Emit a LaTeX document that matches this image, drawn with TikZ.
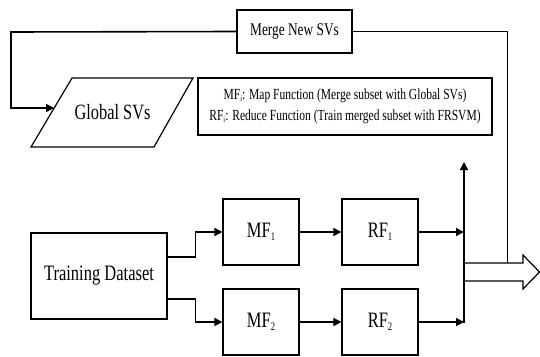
\documentclass[tikz,border=0pt]{standalone}
\usepackage{fontspec}
\setmainfont{Liberation Serif}[FakeStretch=0.75]
\usetikzlibrary{arrows.meta}
\newcommand\bigsub[1]{\raisebox{-3pt}{\fontsize{11.5}{12}\selectfont #1}}
\newcommand\smallsub[1]{\raisebox{-2pt}{\fontsize{8.5}{9}\selectfont #1}}
\begin{document}
\begin{tikzpicture}[x=1pt,y=-1pt,
  box/.style={draw, line width=1.2pt, inner sep=0pt, anchor=center},
  conn/.style={line width=1.6pt, -{Triangle[length=8pt,width=8pt]}},
  thinline/.style={line width=0.8pt},
  big/.style={font=\fontsize{22}{24}\selectfont},
]
\useasboundingbox (0,0) rectangle (540,356);
% nodes
\node[box, minimum width=115pt, minimum height=43pt, font=\fontsize{17.8}{20}\selectfont] (merge) at (294.5,31.5) {Merge New SVs};
\node[box, minimum width=294pt, minimum height=57pt, align=center, font=\fontsize{15.4}{21}\selectfont] (legend) at (345,106.5)
  {MF\smallsub{i}: Map Function (Merge subset with Global SVs)\\RF\smallsub{i}: Reduce Function (Train merged subset with FRSVM)};
\draw[line width=1.2pt] (72,78) -- (193,78) -- (154,147) -- (31,147) -- cycle;
\node[font=\fontsize{21.8}{24}\selectfont] (gsv) at (112.5,112.5) {Global SVs};
\node[box, big, minimum width=136pt, minimum height=86pt] (td) at (99,276) {Training Dataset};
\node[box, big, minimum width=76pt, minimum height=66pt] (mf1) at (261,232) {MF\bigsub{1}};
\node[box, big, minimum width=76pt, minimum height=66pt] (rf1) at (380,232) {RF\bigsub{1}};
\node[box, big, minimum width=76pt, minimum height=66pt] (mf2) at (261,322) {MF\bigsub{2}};
\node[box, big, minimum width=76pt, minimum height=66pt] (rf2) at (380,322) {RF\bigsub{2}};
% coordinates
\coordinate (lft) at (11,32);
\coordinate (gsvin) at (54,108);
\coordinate (jtop) at (464,162);
\coordinate (jbot) at (464,323);
\coordinate (ret) at (507,263);
% connectors
\draw[conn] (merge.west) -- (lft) |- (gsvin);
\draw[conn] ([yshift=19pt]td.east) -- ++(28,0) |- (mf1.west);
\draw[conn] ([yshift=-23pt]td.east) -- ++(28,0) |- (mf2.west);
\draw[conn] (mf1) -- (rf1);
\draw[conn] (mf2) -- (rf2);
\draw[conn] (rf1.east) -- (rf1.east -| jtop);
\draw[conn] (rf2.east) -- (rf2.east -| jtop);
\draw[conn] (jbot) -- (jtop);
% big hollow arrow
\draw[line width=1.2pt, line join=miter] (464,263) -- (523,263) -- (523,255) -- (539.5,272) -- (523,289) -- (523,281) -- (464,281);
% return line
\draw[thinline] (ret) |- (merge.east);
\end{tikzpicture}
\end{document}
